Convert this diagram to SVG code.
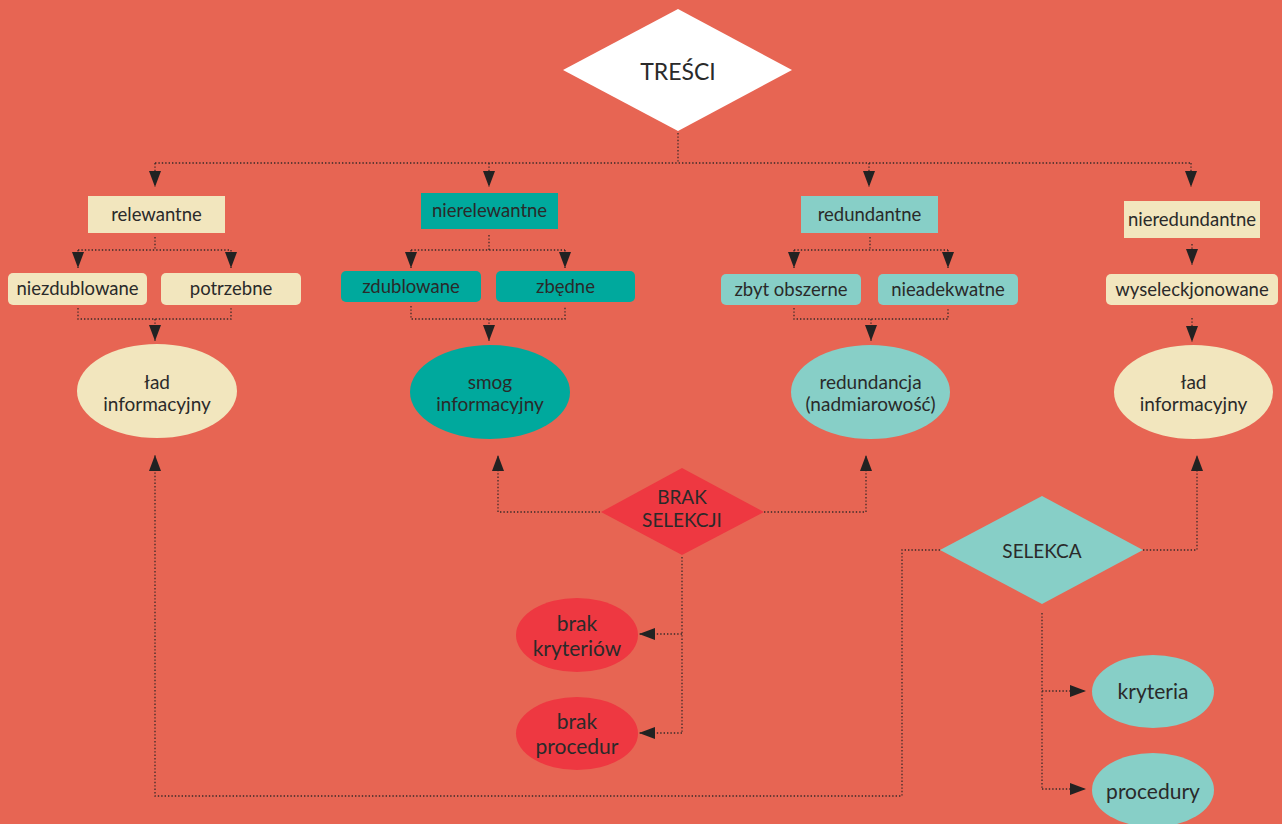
<svg xmlns="http://www.w3.org/2000/svg" width="1282" height="824" viewBox="0 0 1282 824">
<defs>
<marker id="ah" markerUnits="userSpaceOnUse" markerWidth="16" markerHeight="12" viewBox="0 0 16 12" refX="16" refY="6" orient="auto">
<path d="M0,0 L16,6 L0,12 Z" fill="#222"/>
</marker>
<style>
.bg{fill:#E76553}
.cream{fill:#F2E6BE}
.dteal{fill:#00A99D}
.lteal{fill:#87CFC7}
.red{fill:#EE3841}
.t{font-family:Lato,"Open Sans","Liberation Sans",sans-serif;fill:#2A2A2A;text-anchor:middle}
.b{font-size:18.5px}
.e{font-size:19px}
.e2{font-size:21px}
.c{fill:none;stroke:#3a2a28;stroke-width:1.3;stroke-dasharray:1.4 2}
.a{marker-end:url(#ah)}
</style>
</defs>
<rect class="bg" x="0" y="0" width="1282" height="824"/>

<g id="connectors">
<path class="c" d="M678,133 V163"/>
<path class="c" d="M155,163 H1191"/>
<path class="c a" d="M155,163 V187"/>
<path class="c a" d="M489,163 V187"/>
<path class="c a" d="M869,163 V187"/>
<path class="c a" d="M1191,163 V187"/>
<path class="c" d="M155,237 V250 M78,250 H231"/>
<path class="c a" d="M78,250 V268"/>
<path class="c a" d="M231,250 V268"/>
<path class="c" d="M78,308 V319 H231 V308"/>
<path class="c a" d="M155,319 V341"/>
<path class="c" d="M489,235 V250 M411,250 H565"/>
<path class="c a" d="M411,250 V268"/>
<path class="c a" d="M565,250 V268"/>
<path class="c" d="M411,306 V319 H565 V306"/>
<path class="c a" d="M489,319 V341"/>
<path class="c" d="M870,237 V250 M794,250 H948"/>
<path class="c a" d="M794,250 V268"/>
<path class="c a" d="M948,250 V268"/>
<path class="c" d="M794,308 V319 H948 V308"/>
<path class="c a" d="M871,319 V341"/>
<path class="c a" d="M1192,244 V265"/>
<path class="c a" d="M1192,318 V342"/>
<path class="c a" d="M600,512 H498 V455"/>
<path class="c a" d="M764,512 H866 V455"/>
<path class="c" d="M682,557 V733"/>
<path class="c a" d="M682,634 H639"/>
<path class="c a" d="M682,733 H639"/>
<path class="c a" d="M1143,550 H1197 V455"/>
<path class="c a" d="M940,550 H902 V796 H155 V455"/>
<path class="c" d="M1042,613 V789"/>
<path class="c a" d="M1042,691 H1086"/>
<path class="c a" d="M1042,789 H1086"/>
</g>

<g id="tresci">
<polygon fill="#FFFFFF" points="678,9 792,70 678,131 563,70"/>
<text class="t" x="678" y="80" font-size="23">TREŚCI</text>
</g>

<g id="relewantne">
<rect class="cream" x="88" y="196" width="137" height="37"/>
<text class="t b" x="156.5" y="221">relewantne</text>
</g>
<g id="niezdublowane">
<rect class="cream" x="8" y="273" width="139" height="32" rx="5"/>
<text class="t b" x="77.5" y="295">niezdublowane</text>
</g>
<g id="potrzebne">
<rect class="cream" x="161" y="273" width="140" height="32" rx="5"/>
<text class="t b" x="231" y="295">potrzebne</text>
</g>
<g id="lad1">
<ellipse class="cream" cx="157" cy="391" rx="80" ry="47"/>
<text class="t e" x="157" y="389">ład</text>
<text class="t e" x="157" y="411">informacyjny</text>
</g>

<g id="nierelewantne">
<rect class="dteal" x="421" y="193" width="137" height="36"/>
<text class="t b" x="489.5" y="217">nierelewantne</text>
</g>
<g id="zdublowane">
<rect class="dteal" x="341" y="271" width="140" height="31" rx="5"/>
<text class="t b" x="411" y="293">zdublowane</text>
</g>
<g id="zbedne">
<rect class="dteal" x="496" y="271" width="139" height="31" rx="5"/>
<text class="t b" x="565.5" y="293">zbędne</text>
</g>
<g id="smog">
<ellipse class="dteal" cx="490" cy="392" rx="80" ry="47"/>
<text class="t e" x="490" y="389">smog</text>
<text class="t e" x="490" y="411">informacyjny</text>
</g>

<g id="redundantne">
<rect class="lteal" x="801" y="196" width="137" height="37"/>
<text class="t b" x="869.5" y="221">redundantne</text>
</g>
<g id="zbyt-obszerne">
<rect class="lteal" x="721" y="274" width="140" height="31" rx="5"/>
<text class="t b" x="791" y="296">zbyt obszerne</text>
</g>
<g id="nieadekwatne">
<rect class="lteal" x="878" y="274" width="140" height="31" rx="5"/>
<text class="t b" x="948" y="296">nieadekwatne</text>
</g>
<g id="redundancja">
<ellipse class="lteal" cx="870.5" cy="392" rx="79.5" ry="47"/>
<text class="t e" x="870.5" y="389">redundancja</text>
<text class="t e" x="870.5" y="411">(nadmiarowość)</text>
</g>

<g id="nieredundantne">
<rect class="cream" x="1124" y="201" width="136" height="37"/>
<text class="t b" x="1192" y="226">nieredundantne</text>
</g>
<g id="wyseleckjonowane">
<rect class="cream" x="1106" y="274" width="172" height="31" rx="5"/>
<text class="t b" x="1192" y="296">wyseleckjonowane</text>
</g>
<g id="lad2">
<ellipse class="cream" cx="1193.5" cy="392" rx="79.5" ry="47"/>
<text class="t e" x="1193.5" y="389">ład</text>
<text class="t e" x="1193.5" y="411">informacyjny</text>
</g>

<g id="brak-selekcji">
<polygon class="red" points="682,468 764,512 682,555 601,512"/>
<text class="t" x="682" y="504" font-size="19">BRAK</text>
<text class="t" x="682" y="527" font-size="19">SELEKCJI</text>
</g>
<g id="brak-kryteriow">
<ellipse class="red" cx="577" cy="635" rx="61" ry="37"/>
<text class="t e2" x="577" y="631">brak</text>
<text class="t e2" x="577" y="656">kryteriów</text>
</g>
<g id="brak-procedur">
<ellipse class="red" cx="577" cy="733.5" rx="61" ry="36.5"/>
<text class="t e2" x="577" y="729">brak</text>
<text class="t e2" x="577" y="754">procedur</text>
</g>

<g id="selekca">
<polygon class="lteal" points="1042,496 1143,550 1042,604 940,550"/>
<text class="t" x="1042" y="558" font-size="19">SELEKCA</text>
</g>
<g id="kryteria">
<ellipse class="lteal" cx="1153" cy="691.5" rx="61" ry="36.5"/>
<text class="t e2" x="1153" y="699">kryteria</text>
</g>
<g id="procedury">
<ellipse class="lteal" cx="1153" cy="790" rx="61" ry="37"/>
<text class="t e2" x="1153" y="799">procedury</text>
</g>
</svg>
